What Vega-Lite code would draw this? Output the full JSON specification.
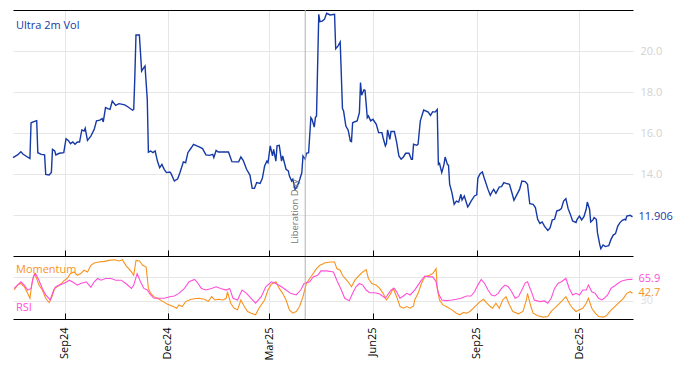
{
"$schema":"https://vega.github.io/schema/vega-lite/v6.json",
"padding":{"left":10,"top":9,"right":0,"bottom":0},
"spacing":-2,
"config":{"view":{"stroke":null},"font":"Open Sans","axis":{"labelFont":"Open Sans","domainColor":"#000000","tickColor":"#000000","gridColor":"#e6e6e6","gridWidth":1,"minExtent":0}},
"datasets":{
"events":[{"d":"2025-04-02","label":"Liberation Day"}],
"vol":[
{"d":"2024-07-17","v":14.80},{"d":"2024-07-21","v":14.93},{"d":"2024-07-24","v":15.09},{"d":"2024-07-26","v":14.96},{"d":"2024-08-01","v":14.75},{"d":"2024-08-02","v":16.50},{"d":"2024-08-05","v":16.57},{"d":"2024-08-07","v":16.60},{"d":"2024-08-08","v":15.04},{"d":"2024-08-11","v":14.96},{"d":"2024-08-14","v":14.93},{"d":"2024-08-15","v":13.98},{"d":"2024-08-18","v":13.95},{"d":"2024-08-20","v":14.07},{"d":"2024-08-21","v":15.20},{"d":"2024-08-23","v":15.12},{"d":"2024-08-24","v":14.93},{"d":"2024-08-27","v":15.01},{"d":"2024-08-31","v":15.04},
{"d":"2024-09-02","v":15.72},{"d":"2024-09-04","v":15.64},{"d":"2024-09-06","v":15.48},{"d":"2024-09-08","v":15.56},{"d":"2024-09-10","v":15.45},{"d":"2024-09-12","v":15.56},{"d":"2024-09-14","v":15.56},{"d":"2024-09-16","v":16.15},{"d":"2024-09-18","v":16.10},{"d":"2024-09-19","v":16.23},{"d":"2024-09-21","v":15.64},{"d":"2024-09-24","v":15.85},{"d":"2024-09-27","v":16.18},{"d":"2024-09-29","v":16.59},
{"d":"2024-10-02","v":16.63},{"d":"2024-10-04","v":16.70},{"d":"2024-10-05","v":16.54},{"d":"2024-10-07","v":17.24},{"d":"2024-10-09","v":17.19},{"d":"2024-10-11","v":17.15},{"d":"2024-10-13","v":17.56},{"d":"2024-10-16","v":17.35},{"d":"2024-10-19","v":17.43},{"d":"2024-10-24","v":17.37},{"d":"2024-10-27","v":17.27},{"d":"2024-10-31","v":17.11},
{"d":"2024-11-01","v":17.15},{"d":"2024-11-02","v":18.78},{"d":"2024-11-03","v":20.78},{"d":"2024-11-06","v":20.78},{"d":"2024-11-08","v":19.02},{"d":"2024-11-10","v":19.19},{"d":"2024-11-11","v":19.27},{"d":"2024-11-13","v":17.64},{"d":"2024-11-14","v":15.07},{"d":"2024-11-16","v":15.12},{"d":"2024-11-18","v":15.04},{"d":"2024-11-20","v":15.12},{"d":"2024-11-22","v":14.63},{"d":"2024-11-24","v":14.31},{"d":"2024-11-26","v":14.47},{"d":"2024-11-28","v":14.23},{"d":"2024-11-30","v":14.07},
{"d":"2024-12-03","v":14.10},{"d":"2024-12-04","v":14.03},{"d":"2024-12-07","v":13.66},{"d":"2024-12-10","v":13.77},{"d":"2024-12-12","v":14.07},{"d":"2024-12-15","v":14.59},{"d":"2024-12-17","v":14.55},{"d":"2024-12-19","v":15.04},{"d":"2024-12-22","v":15.28},{"d":"2024-12-24","v":15.45},{"d":"2024-12-27","v":15.37},{"d":"2024-12-29","v":15.32},
{"d":"2025-01-01","v":15.24},{"d":"2025-01-04","v":14.93},{"d":"2025-01-07","v":14.91},{"d":"2025-01-10","v":14.96},{"d":"2025-01-11","v":14.80},{"d":"2025-01-13","v":15.15},{"d":"2025-01-15","v":15.07},{"d":"2025-01-19","v":15.07},{"d":"2025-01-24","v":15.07},{"d":"2025-01-27","v":14.60},{"d":"2025-01-30","v":14.59},
{"d":"2025-02-02","v":14.59},{"d":"2025-02-04","v":14.83},{"d":"2025-02-06","v":14.67},{"d":"2025-02-09","v":14.23},{"d":"2025-02-12","v":13.95},{"d":"2025-02-14","v":13.30},{"d":"2025-02-16","v":13.30},{"d":"2025-02-18","v":13.58},{"d":"2025-02-21","v":13.54},{"d":"2025-02-23","v":13.79},{"d":"2025-02-25","v":14.39},{"d":"2025-02-27","v":14.63},{"d":"2025-02-28","v":14.55},
{"d":"2025-03-02","v":15.37},{"d":"2025-03-04","v":14.88},{"d":"2025-03-05","v":15.20},{"d":"2025-03-07","v":14.63},{"d":"2025-03-08","v":15.37},{"d":"2025-03-10","v":15.40},{"d":"2025-03-12","v":14.63},{"d":"2025-03-13","v":14.88},{"d":"2025-03-16","v":14.23},{"d":"2025-03-18","v":14.15},{"d":"2025-03-19","v":13.90},{"d":"2025-03-21","v":13.66},{"d":"2025-03-22","v":13.74},{"d":"2025-03-24","v":13.25},{"d":"2025-03-26","v":13.41},{"d":"2025-03-28","v":13.71},{"d":"2025-03-30","v":14.07},{"d":"2025-03-31","v":14.88},
{"d":"2025-04-02","v":14.72},{"d":"2025-04-03","v":15.01},{"d":"2025-04-05","v":15.04},{"d":"2025-04-07","v":16.75},{"d":"2025-04-08","v":16.67},{"d":"2025-04-10","v":16.29},{"d":"2025-04-11","v":16.75},{"d":"2025-04-12","v":16.83},{"d":"2025-04-14","v":21.79},{"d":"2025-04-15","v":21.43},{"d":"2025-04-17","v":21.46},{"d":"2025-04-19","v":21.54},{"d":"2025-04-21","v":21.84},{"d":"2025-04-24","v":21.76},{"d":"2025-04-28","v":21.79},{"d":"2025-04-29","v":20.11},
{"d":"2025-05-01","v":20.24},{"d":"2025-05-03","v":20.44},{"d":"2025-05-05","v":17.19},{"d":"2025-05-06","v":17.07},{"d":"2025-05-08","v":16.34},{"d":"2025-05-10","v":16.15},{"d":"2025-05-12","v":15.61},{"d":"2025-05-13","v":15.58},{"d":"2025-05-14","v":16.50},{"d":"2025-05-16","v":16.55},{"d":"2025-05-18","v":16.59},{"d":"2025-05-20","v":16.99},{"d":"2025-05-21","v":18.46},{"d":"2025-05-22","v":17.84},{"d":"2025-05-24","v":18.10},{"d":"2025-05-25","v":18.08},{"d":"2025-05-27","v":16.75},{"d":"2025-05-28","v":16.83},{"d":"2025-05-30","v":16.59},
{"d":"2025-06-01","v":16.67},{"d":"2025-06-04","v":16.42},{"d":"2025-06-06","v":16.02},{"d":"2025-06-09","v":16.02},{"d":"2025-06-10","v":15.77},{"d":"2025-06-12","v":15.37},{"d":"2025-06-13","v":15.50},{"d":"2025-06-14","v":16.15},{"d":"2025-06-16","v":15.69},{"d":"2025-06-17","v":16.07},{"d":"2025-06-20","v":16.07},{"d":"2025-06-22","v":15.56},{"d":"2025-06-24","v":14.88},{"d":"2025-06-26","v":14.72},{"d":"2025-06-28","v":14.83},{"d":"2025-06-30","v":15.01},
{"d":"2025-07-03","v":15.01},{"d":"2025-07-05","v":14.72},{"d":"2025-07-06","v":14.72},{"d":"2025-07-07","v":15.45},{"d":"2025-07-10","v":15.40},{"d":"2025-07-11","v":15.45},{"d":"2025-07-13","v":16.59},{"d":"2025-07-16","v":17.12},{"d":"2025-07-20","v":17.02},{"d":"2025-07-22","v":16.86},{"d":"2025-07-24","v":17.04},{"d":"2025-07-26","v":17.02},{"d":"2025-07-28","v":17.15},{"d":"2025-07-29","v":14.47},{"d":"2025-07-30","v":14.52},
{"d":"2025-08-01","v":14.07},{"d":"2025-08-03","v":14.47},{"d":"2025-08-04","v":14.83},{"d":"2025-08-06","v":14.47},{"d":"2025-08-07","v":14.42},{"d":"2025-08-08","v":13.50},{"d":"2025-08-10","v":13.09},{"d":"2025-08-12","v":12.52},{"d":"2025-08-14","v":12.68},{"d":"2025-08-16","v":12.63},{"d":"2025-08-18","v":13.01},{"d":"2025-08-19","v":12.73},{"d":"2025-08-21","v":12.93},{"d":"2025-08-24","v":12.39},{"d":"2025-08-25","v":12.47},{"d":"2025-08-27","v":12.68},{"d":"2025-08-30","v":12.93},
{"d":"2025-09-01","v":12.98},{"d":"2025-09-02","v":13.79},{"d":"2025-09-04","v":14.02},{"d":"2025-09-06","v":14.10},{"d":"2025-09-08","v":13.74},{"d":"2025-09-11","v":13.25},{"d":"2025-09-13","v":12.96},{"d":"2025-09-15","v":13.17},{"d":"2025-09-16","v":13.25},{"d":"2025-09-18","v":13.06},{"d":"2025-09-21","v":13.37},{"d":"2025-09-23","v":13.38},{"d":"2025-09-25","v":13.58},{"d":"2025-09-27","v":13.54},{"d":"2025-09-30","v":13.50},
{"d":"2025-10-02","v":13.12},{"d":"2025-10-04","v":12.72},{"d":"2025-10-06","v":12.93},{"d":"2025-10-09","v":13.25},{"d":"2025-10-11","v":13.66},{"d":"2025-10-14","v":13.63},{"d":"2025-10-16","v":13.50},{"d":"2025-10-18","v":12.55},{"d":"2025-10-21","v":12.52},{"d":"2025-10-23","v":12.36},{"d":"2025-10-25","v":11.79},{"d":"2025-10-27","v":11.59},{"d":"2025-10-29","v":11.66},{"d":"2025-10-31","v":11.46},
{"d":"2025-11-03","v":11.25},{"d":"2025-11-05","v":11.37},{"d":"2025-11-07","v":11.76},{"d":"2025-11-09","v":11.79},{"d":"2025-11-11","v":12.20},{"d":"2025-11-13","v":12.23},{"d":"2025-11-15","v":12.31},{"d":"2025-11-17","v":12.68},{"d":"2025-11-19","v":12.80},{"d":"2025-11-21","v":12.31},{"d":"2025-11-23","v":12.03},{"d":"2025-11-25","v":11.71},{"d":"2025-11-28","v":11.63},{"d":"2025-11-29","v":11.79},
{"d":"2025-12-01","v":11.95},{"d":"2025-12-03","v":11.76},{"d":"2025-12-05","v":11.92},{"d":"2025-12-07","v":12.28},{"d":"2025-12-08","v":12.63},{"d":"2025-12-10","v":12.28},{"d":"2025-12-11","v":11.66},{"d":"2025-12-13","v":11.76},{"d":"2025-12-14","v":11.87},{"d":"2025-12-16","v":11.79},{"d":"2025-12-17","v":11.14},{"d":"2025-12-19","v":10.57},{"d":"2025-12-20","v":10.36},{"d":"2025-12-22","v":10.54},{"d":"2025-12-24","v":10.46},{"d":"2025-12-27","v":10.50},{"d":"2025-12-29","v":10.81},{"d":"2025-12-31","v":11.02},
{"d":"2026-01-02","v":11.09},{"d":"2026-01-04","v":11.46},{"d":"2026-01-06","v":11.63},{"d":"2026-01-08","v":11.74},{"d":"2026-01-10","v":11.79},{"d":"2026-01-11","v":11.76},{"d":"2026-01-12","v":11.95},{"d":"2026-01-15","v":11.99},{"d":"2026-01-17","v":11.906}
],
"osc":[
{"d":"2024-07-18","s":"Momentum","v":48.1},{"d":"2024-07-21","s":"Momentum","v":56.3},{"d":"2024-07-24","s":"Momentum","v":59.0},{"d":"2024-07-27","s":"Momentum","v":53.6},{"d":"2024-07-30","s":"Momentum","v":42.6},{"d":"2024-08-01","s":"Momentum","v":34.4},{"d":"2024-08-03","s":"Momentum","v":61.8},{"d":"2024-08-05","s":"Momentum","v":75.5},{"d":"2024-08-07","s":"Momentum","v":67.3},{"d":"2024-08-09","s":"Momentum","v":56.3},{"d":"2024-08-12","s":"Momentum","v":48.1},{"d":"2024-08-15","s":"Momentum","v":34.4},{"d":"2024-08-18","s":"Momentum","v":27.3},{"d":"2024-08-20","s":"Momentum","v":34.4},{"d":"2024-08-23","s":"Momentum","v":50.8},{"d":"2024-08-26","s":"Momentum","v":54.7},{"d":"2024-08-29","s":"Momentum","v":59.0},{"d":"2024-08-31","s":"Momentum","v":63.4},
{"d":"2024-09-03","s":"Momentum","v":67.3},{"d":"2024-09-06","s":"Momentum","v":75.5},{"d":"2024-09-09","s":"Momentum","v":78.2},{"d":"2024-09-12","s":"Momentum","v":72.7},{"d":"2024-09-15","s":"Momentum","v":75.5},{"d":"2024-09-18","s":"Momentum","v":81.0},{"d":"2024-09-21","s":"Momentum","v":78.2},{"d":"2024-09-24","s":"Momentum","v":89.2},{"d":"2024-09-27","s":"Momentum","v":93.0},{"d":"2024-10-01","s":"Momentum","v":94.7},{"d":"2024-10-06","s":"Momentum","v":95.8},{"d":"2024-10-10","s":"Momentum","v":97.4},{"d":"2024-10-15","s":"Momentum","v":98.5},{"d":"2024-10-19","s":"Momentum","v":96.3},{"d":"2024-10-22","s":"Momentum","v":98.5},{"d":"2024-10-25","s":"Momentum","v":89.2},{"d":"2024-10-30","s":"Momentum","v":78.2},
{"d":"2024-11-01","s":"Momentum","v":72.7},{"d":"2024-11-03","s":"Momentum","v":97.4},{"d":"2024-11-06","s":"Momentum","v":96.3},{"d":"2024-11-09","s":"Momentum","v":89.2},{"d":"2024-11-12","s":"Momentum","v":86.4},{"d":"2024-11-14","s":"Momentum","v":50.8},{"d":"2024-11-16","s":"Momentum","v":42.6},{"d":"2024-11-19","s":"Momentum","v":37.1},{"d":"2024-11-22","s":"Momentum","v":34.4},{"d":"2024-11-27","s":"Momentum","v":28.9},{"d":"2024-12-01","s":"Momentum","v":24.5},{"d":"2024-12-06","s":"Momentum","v":20.7},{"d":"2024-12-09","s":"Momentum","v":17.9},{"d":"2024-12-11","s":"Momentum","v":23.4},{"d":"2024-12-14","s":"Momentum","v":20.7},{"d":"2024-12-17","s":"Momentum","v":28.9},{"d":"2024-12-22","s":"Momentum","v":32.7},{"d":"2024-12-28","s":"Momentum","v":34.4},
{"d":"2025-01-03","s":"Momentum","v":32.7},{"d":"2025-01-06","s":"Momentum","v":28.9},{"d":"2025-01-09","s":"Momentum","v":37.1},{"d":"2025-01-12","s":"Momentum","v":31.6},{"d":"2025-01-15","s":"Momentum","v":32.7},{"d":"2025-01-19","s":"Momentum","v":31.6},{"d":"2025-01-22","s":"Momentum","v":34.4},{"d":"2025-01-23","s":"Momentum","v":45.3},{"d":"2025-01-26","s":"Momentum","v":26.2},{"d":"2025-01-29","s":"Momentum","v":17.9},{"d":"2025-02-01","s":"Momentum","v":15.2},{"d":"2025-02-04","s":"Momentum","v":31.6},{"d":"2025-02-07","s":"Momentum","v":20.7},{"d":"2025-02-10","s":"Momentum","v":12.5},{"d":"2025-02-13","s":"Momentum","v":9.7},{"d":"2025-02-17","s":"Momentum","v":7.0},{"d":"2025-02-20","s":"Momentum","v":17.9},{"d":"2025-02-25","s":"Momentum","v":31.6},{"d":"2025-02-28","s":"Momentum","v":48.1},
{"d":"2025-03-03","s":"Momentum","v":57.9},{"d":"2025-03-07","s":"Momentum","v":61.8},{"d":"2025-03-10","s":"Momentum","v":50.8},{"d":"2025-03-13","s":"Momentum","v":42.6},{"d":"2025-03-16","s":"Momentum","v":31.6},{"d":"2025-03-19","s":"Momentum","v":15.2},{"d":"2025-03-22","s":"Momentum","v":9.7},{"d":"2025-03-25","s":"Momentum","v":12.5},{"d":"2025-03-28","s":"Momentum","v":20.7},{"d":"2025-03-31","s":"Momentum","v":37.1},{"d":"2025-04-03","s":"Momentum","v":59.0},{"d":"2025-04-06","s":"Momentum","v":67.3},{"d":"2025-04-09","s":"Momentum","v":75.5},{"d":"2025-04-12","s":"Momentum","v":83.7},{"d":"2025-04-15","s":"Momentum","v":89.2},{"d":"2025-04-18","s":"Momentum","v":91.9},{"d":"2025-04-19","s":"Momentum","v":93.0},{"d":"2025-04-24","s":"Momentum","v":94.7},{"d":"2025-04-28","s":"Momentum","v":94.7},{"d":"2025-04-30","s":"Momentum","v":83.7},
{"d":"2025-05-03","s":"Momentum","v":81.0},{"d":"2025-05-05","s":"Momentum","v":72.7},{"d":"2025-05-10","s":"Momentum","v":61.8},{"d":"2025-05-13","s":"Momentum","v":53.6},{"d":"2025-05-16","s":"Momentum","v":64.5},{"d":"2025-05-20","s":"Momentum","v":72.7},{"d":"2025-05-23","s":"Momentum","v":78.2},{"d":"2025-05-26","s":"Momentum","v":82.1},{"d":"2025-05-28","s":"Momentum","v":67.3},{"d":"2025-05-31","s":"Momentum","v":59.0},{"d":"2025-06-04","s":"Momentum","v":56.3},{"d":"2025-06-07","s":"Momentum","v":50.8},{"d":"2025-06-10","s":"Momentum","v":42.6},{"d":"2025-06-13","s":"Momentum","v":31.6},{"d":"2025-06-16","s":"Momentum","v":39.9},{"d":"2025-06-19","s":"Momentum","v":50.8},{"d":"2025-06-22","s":"Momentum","v":37.1},{"d":"2025-06-25","s":"Momentum","v":20.7},{"d":"2025-06-28","s":"Momentum","v":17.9},
{"d":"2025-07-01","s":"Momentum","v":20.7},{"d":"2025-07-04","s":"Momentum","v":17.9},{"d":"2025-07-07","s":"Momentum","v":21.8},{"d":"2025-07-08","s":"Momentum","v":31.6},{"d":"2025-07-11","s":"Momentum","v":42.6},{"d":"2025-07-14","s":"Momentum","v":59.0},{"d":"2025-07-17","s":"Momentum","v":70.0},{"d":"2025-07-21","s":"Momentum","v":72.7},{"d":"2025-07-24","s":"Momentum","v":75.5},{"d":"2025-07-27","s":"Momentum","v":83.7},{"d":"2025-07-28","s":"Momentum","v":50.8},{"d":"2025-07-30","s":"Momentum","v":31.6},{"d":"2025-08-02","s":"Momentum","v":23.4},{"d":"2025-08-05","s":"Momentum","v":20.7},{"d":"2025-08-10","s":"Momentum","v":15.2},{"d":"2025-08-14","s":"Momentum","v":9.7},{"d":"2025-08-17","s":"Momentum","v":7.0},{"d":"2025-08-20","s":"Momentum","v":10.8},{"d":"2025-08-23","s":"Momentum","v":9.7},{"d":"2025-08-26","s":"Momentum","v":12.5},{"d":"2025-08-29","s":"Momentum","v":17.9},
{"d":"2025-09-01","s":"Momentum","v":23.4},{"d":"2025-09-04","s":"Momentum","v":28.9},{"d":"2025-09-07","s":"Momentum","v":32.7},{"d":"2025-09-10","s":"Momentum","v":26.2},{"d":"2025-09-13","s":"Momentum","v":20.7},{"d":"2025-09-15","s":"Momentum","v":17.9},{"d":"2025-09-18","s":"Momentum","v":26.2},{"d":"2025-09-21","s":"Momentum","v":17.9},{"d":"2025-09-24","s":"Momentum","v":31.6},{"d":"2025-09-27","s":"Momentum","v":37.1},{"d":"2025-09-30","s":"Momentum","v":23.4},{"d":"2025-10-03","s":"Momentum","v":12.5},{"d":"2025-10-08","s":"Momentum","v":8.6},{"d":"2025-10-12","s":"Momentum","v":12.5},{"d":"2025-10-15","s":"Momentum","v":31.6},{"d":"2025-10-16","s":"Momentum","v":42.6},{"d":"2025-10-19","s":"Momentum","v":20.7},{"d":"2025-10-21","s":"Momentum","v":9.7},{"d":"2025-10-25","s":"Momentum","v":5.3},{"d":"2025-10-30","s":"Momentum","v":3.1},
{"d":"2025-11-03","s":"Momentum","v":4.2},{"d":"2025-11-06","s":"Momentum","v":12.5},{"d":"2025-11-09","s":"Momentum","v":17.9},{"d":"2025-11-12","s":"Momentum","v":23.4},{"d":"2025-11-15","s":"Momentum","v":28.9},{"d":"2025-11-19","s":"Momentum","v":37.1},{"d":"2025-11-22","s":"Momentum","v":26.2},{"d":"2025-11-25","s":"Momentum","v":17.9},{"d":"2025-11-28","s":"Momentum","v":12.5},{"d":"2025-12-01","s":"Momentum","v":15.2},{"d":"2025-12-04","s":"Momentum","v":17.9},{"d":"2025-12-07","s":"Momentum","v":26.2},{"d":"2025-12-09","s":"Momentum","v":34.4},{"d":"2025-12-12","s":"Momentum","v":17.9},{"d":"2025-12-15","s":"Momentum","v":9.7},{"d":"2025-12-18","s":"Momentum","v":4.2},{"d":"2025-12-22","s":"Momentum","v":3.1},{"d":"2025-12-25","s":"Momentum","v":5.3},{"d":"2025-12-28","s":"Momentum","v":12.5},{"d":"2025-12-31","s":"Momentum","v":17.9},
{"d":"2026-01-03","s":"Momentum","v":23.4},{"d":"2026-01-06","s":"Momentum","v":28.9},{"d":"2026-01-09","s":"Momentum","v":34.4},{"d":"2026-01-12","s":"Momentum","v":42.6},{"d":"2026-01-15","s":"Momentum","v":45.3},{"d":"2026-01-17","s":"Momentum","v":42.7},
{"d":"2024-07-18","s":"RSI","v":50.8},{"d":"2024-07-21","s":"RSI","v":56.3},{"d":"2024-07-24","s":"RSI","v":61.8},{"d":"2024-07-27","s":"RSI","v":56.3},{"d":"2024-07-30","s":"RSI","v":48.1},{"d":"2024-08-02","s":"RSI","v":50.8},{"d":"2024-08-04","s":"RSI","v":70.0},{"d":"2024-08-06","s":"RSI","v":75.5},{"d":"2024-08-09","s":"RSI","v":64.5},{"d":"2024-08-12","s":"RSI","v":50.8},{"d":"2024-08-15","s":"RSI","v":39.9},{"d":"2024-08-19","s":"RSI","v":31.6},{"d":"2024-08-22","s":"RSI","v":48.1},{"d":"2024-08-24","s":"RSI","v":53.6},{"d":"2024-08-27","s":"RSI","v":56.3},{"d":"2024-08-31","s":"RSI","v":59.0},
{"d":"2024-09-05","s":"RSI","v":64.5},{"d":"2024-09-09","s":"RSI","v":60.1},{"d":"2024-09-12","s":"RSI","v":56.3},{"d":"2024-09-15","s":"RSI","v":59.0},{"d":"2024-09-20","s":"RSI","v":61.8},{"d":"2024-09-24","s":"RSI","v":52.5},{"d":"2024-09-27","s":"RSI","v":61.8},{"d":"2024-09-30","s":"RSI","v":67.3},{"d":"2024-10-03","s":"RSI","v":64.5},{"d":"2024-10-07","s":"RSI","v":67.3},{"d":"2024-10-12","s":"RSI","v":67.3},{"d":"2024-10-16","s":"RSI","v":64.5},{"d":"2024-10-21","s":"RSI","v":64.5},{"d":"2024-10-25","s":"RSI","v":59.0},{"d":"2024-10-30","s":"RSI","v":50.8},
{"d":"2024-11-01","s":"RSI","v":56.3},{"d":"2024-11-04","s":"RSI","v":75.5},{"d":"2024-11-07","s":"RSI","v":61.8},{"d":"2024-11-10","s":"RSI","v":50.8},{"d":"2024-11-13","s":"RSI","v":48.1},{"d":"2024-11-16","s":"RSI","v":39.9},{"d":"2024-11-19","s":"RSI","v":34.4},{"d":"2024-11-24","s":"RSI","v":34.4},{"d":"2024-11-28","s":"RSI","v":34.4},{"d":"2024-12-03","s":"RSI","v":37.1},{"d":"2024-12-07","s":"RSI","v":38.2},{"d":"2024-12-11","s":"RSI","v":42.6},{"d":"2024-12-16","s":"RSI","v":50.8},{"d":"2024-12-20","s":"RSI","v":61.8},{"d":"2024-12-25","s":"RSI","v":65.6},{"d":"2024-12-28","s":"RSI","v":59.0},{"d":"2024-12-31","s":"RSI","v":50.8},
{"d":"2025-01-04","s":"RSI","v":48.1},{"d":"2025-01-09","s":"RSI","v":50.8},{"d":"2025-01-13","s":"RSI","v":53.6},{"d":"2025-01-17","s":"RSI","v":50.8},{"d":"2025-01-22","s":"RSI","v":48.1},{"d":"2025-01-25","s":"RSI","v":50.8},{"d":"2025-01-28","s":"RSI","v":34.4},{"d":"2025-02-01","s":"RSI","v":31.6},{"d":"2025-02-05","s":"RSI","v":48.1},{"d":"2025-02-09","s":"RSI","v":42.6},{"d":"2025-02-13","s":"RSI","v":34.4},{"d":"2025-02-17","s":"RSI","v":26.2},{"d":"2025-02-22","s":"RSI","v":37.1},{"d":"2025-02-26","s":"RSI","v":53.6},
{"d":"2025-03-03","s":"RSI","v":61.8},{"d":"2025-03-07","s":"RSI","v":59.0},{"d":"2025-03-12","s":"RSI","v":53.6},{"d":"2025-03-16","s":"RSI","v":48.1},{"d":"2025-03-20","s":"RSI","v":42.6},{"d":"2025-03-25","s":"RSI","v":39.9},{"d":"2025-03-29","s":"RSI","v":48.1},{"d":"2025-04-01","s":"RSI","v":59.0},{"d":"2025-04-06","s":"RSI","v":61.8},{"d":"2025-04-09","s":"RSI","v":70.0},{"d":"2025-04-13","s":"RSI","v":72.7},{"d":"2025-04-16","s":"RSI","v":79.9},{"d":"2025-04-21","s":"RSI","v":79.9},{"d":"2025-04-27","s":"RSI","v":78.2},{"d":"2025-04-30","s":"RSI","v":64.5},
{"d":"2025-05-04","s":"RSI","v":48.1},{"d":"2025-05-07","s":"RSI","v":34.4},{"d":"2025-05-11","s":"RSI","v":30.5},{"d":"2025-05-14","s":"RSI","v":42.6},{"d":"2025-05-17","s":"RSI","v":53.6},{"d":"2025-05-20","s":"RSI","v":59.0},{"d":"2025-05-23","s":"RSI","v":56.3},{"d":"2025-05-26","s":"RSI","v":48.1},{"d":"2025-05-29","s":"RSI","v":43.7},{"d":"2025-06-03","s":"RSI","v":43.7},{"d":"2025-06-07","s":"RSI","v":41.5},{"d":"2025-06-12","s":"RSI","v":34.4},{"d":"2025-06-14","s":"RSI","v":39.9},{"d":"2025-06-17","s":"RSI","v":48.1},{"d":"2025-06-20","s":"RSI","v":50.8},{"d":"2025-06-22","s":"RSI","v":45.3},{"d":"2025-06-25","s":"RSI","v":34.4},{"d":"2025-06-28","s":"RSI","v":38.2},
{"d":"2025-07-01","s":"RSI","v":42.6},{"d":"2025-07-04","s":"RSI","v":39.9},{"d":"2025-07-08","s":"RSI","v":48.1},{"d":"2025-07-11","s":"RSI","v":56.3},{"d":"2025-07-14","s":"RSI","v":64.5},{"d":"2025-07-17","s":"RSI","v":71.1},{"d":"2025-07-21","s":"RSI","v":70.0},{"d":"2025-07-24","s":"RSI","v":70.0},{"d":"2025-07-27","s":"RSI","v":61.8},{"d":"2025-07-29","s":"RSI","v":42.6},{"d":"2025-08-01","s":"RSI","v":31.6},{"d":"2025-08-05","s":"RSI","v":30.5},{"d":"2025-08-10","s":"RSI","v":31.6},{"d":"2025-08-14","s":"RSI","v":32.7},{"d":"2025-08-18","s":"RSI","v":34.4},{"d":"2025-08-23","s":"RSI","v":38.2},{"d":"2025-08-27","s":"RSI","v":38.2},{"d":"2025-08-30","s":"RSI","v":45.3},
{"d":"2025-09-02","s":"RSI","v":56.3},{"d":"2025-09-05","s":"RSI","v":65.6},{"d":"2025-09-08","s":"RSI","v":59.0},{"d":"2025-09-11","s":"RSI","v":48.1},{"d":"2025-09-14","s":"RSI","v":39.9},{"d":"2025-09-17","s":"RSI","v":38.2},{"d":"2025-09-20","s":"RSI","v":42.6},{"d":"2025-09-23","s":"RSI","v":50.8},{"d":"2025-09-26","s":"RSI","v":56.3},{"d":"2025-09-29","s":"RSI","v":53.6},{"d":"2025-10-02","s":"RSI","v":45.3},{"d":"2025-10-05","s":"RSI","v":34.4},{"d":"2025-10-08","s":"RSI","v":37.1},{"d":"2025-10-11","s":"RSI","v":48.1},{"d":"2025-10-14","s":"RSI","v":60.1},{"d":"2025-10-16","s":"RSI","v":61.8},{"d":"2025-10-20","s":"RSI","v":42.6},{"d":"2025-10-22","s":"RSI","v":31.6},{"d":"2025-10-27","s":"RSI","v":28.9},{"d":"2025-10-31","s":"RSI","v":30.0},
{"d":"2025-11-03","s":"RSI","v":26.2},{"d":"2025-11-06","s":"RSI","v":34.4},{"d":"2025-11-09","s":"RSI","v":50.8},{"d":"2025-11-12","s":"RSI","v":59.0},{"d":"2025-11-15","s":"RSI","v":61.8},{"d":"2025-11-19","s":"RSI","v":67.3},{"d":"2025-11-22","s":"RSI","v":50.8},{"d":"2025-11-25","s":"RSI","v":39.9},{"d":"2025-11-28","s":"RSI","v":42.6},{"d":"2025-12-01","s":"RSI","v":39.9},{"d":"2025-12-04","s":"RSI","v":48.1},{"d":"2025-12-07","s":"RSI","v":48.1},{"d":"2025-12-09","s":"RSI","v":56.3},{"d":"2025-12-12","s":"RSI","v":45.3},{"d":"2025-12-15","s":"RSI","v":42.6},{"d":"2025-12-18","s":"RSI","v":34.4},{"d":"2025-12-21","s":"RSI","v":31.6},{"d":"2025-12-23","s":"RSI","v":34.4},{"d":"2025-12-26","s":"RSI","v":39.9},{"d":"2025-12-29","s":"RSI","v":50.8},
{"d":"2026-01-01","s":"RSI","v":54.7},{"d":"2026-01-04","s":"RSI","v":59.0},{"d":"2026-01-07","s":"RSI","v":62.9},{"d":"2026-01-10","s":"RSI","v":64.5},{"d":"2026-01-13","s":"RSI","v":65.6},{"d":"2026-01-17","s":"RSI","v":65.9}
]
},
"vconcat":[
{
"width":620,"height":246,
"layer":[
{"data":{"name":"vol"},"mark":{"type":"line","color":"#1539a6","strokeWidth":1.4},
 "encoding":{
  "x":{"field":"d","type":"temporal","scale":{"domain":[{"year":2024,"month":"jul","date":17},{"year":2026,"month":"jan","date":17,"hours":12}]},
       "axis":{"orient":"bottom","title":null,"labels":false,"labelPadding":0,"tickSize":-6,"grid":true,"values":[{"year":2024,"month":"sep","date":1},{"year":2024,"month":"dec","date":1},{"year":2025,"month":"mar","date":1},{"year":2025,"month":"jun","date":1},{"year":2025,"month":"sep","date":1},{"year":2025,"month":"dec","date":1}]}},
  "y":{"field":"v","type":"quantitative","scale":{"domain":[10,22],"nice":false,"zero":false},
       "axis":{"orient":"right","title":null,"values":[12,14,16,18,20],"labelExpr":"datum.value == 12 ? '' : format(datum.value, '.1f')","domain":false,"ticks":false,"labelColor":"#d2d2d2","labelFontSize":11,"labelPadding":7}}
 }},
{"data":{"name":"events"},"mark":{"type":"rule","color":"#b0b0b0","strokeWidth":1},
 "encoding":{"x":{"field":"d","type":"temporal","axis":{"orient":"top","title":null,"labels":false,"labelPadding":0,"ticks":false,"grid":false}}}},
{"data":{"name":"events"},"mark":{"type":"text","angle":270,"align":"left","baseline":"bottom","dy":-5,"fontSize":9.5,"color":"#777777"},
 "encoding":{"x":{"field":"d","type":"temporal","axis":null},"y":{"datum":10.6,"type":"quantitative","axis":null},"text":{"field":"label"}}},
{"data":{"values":[{}]},"mark":{"type":"text","align":"left","baseline":"middle","dx":3,"fontSize":11,"color":"#1539a6"},
 "encoding":{"x":{"datum":{"year":2024,"month":"jul","date":17},"type":"temporal","axis":null},"y":{"datum":21.24,"type":"quantitative","axis":null},"text":{"value":"Ultra 2m Vol"}}},
{"data":{"name":"vol"},"transform":[{"window":[{"op":"row_number","as":"rn"}],"sort":[{"field":"d","order":"descending"}]},{"filter":"datum.rn == 1"}],
 "mark":{"type":"text","align":"left","baseline":"middle","dx":6,"fontSize":11,"color":"#1539a6"},
 "encoding":{"x":{"field":"d","type":"temporal","axis":null},"y":{"field":"v","type":"quantitative","axis":null},"text":{"field":"v","type":"quantitative","format":".3f"}}}
],
"resolve":{"axis":{"x":"independent","y":"independent"}}
},
{
"width":620,"height":62,
"layer":[
{"data":{"name":"osc"},"mark":{"type":"line","strokeWidth":1.1},
 "encoding":{
  "x":{"field":"d","type":"temporal","scale":{"domain":[{"year":2024,"month":"jul","date":17},{"year":2026,"month":"jan","date":17,"hours":12}]},
       "axis":{"orient":"bottom","title":null,"format":"%b%y","labelAngle":270,"labelFontSize":11,"labelColor":"#000000","labelPadding":14,"tickSize":-6,"grid":true,"values":[{"year":2024,"month":"sep","date":1},{"year":2024,"month":"dec","date":1},{"year":2025,"month":"mar","date":1},{"year":2025,"month":"jun","date":1},{"year":2025,"month":"sep","date":1},{"year":2025,"month":"dec","date":1}]}},
  "y":{"field":"v","type":"quantitative","scale":{"domain":[0,103],"nice":false,"zero":false},
       "axis":{"orient":"right","title":null,"values":[30,70],"labelExpr":"datum.value == 30 ? '30' : ''","domain":false,"ticks":false,"labelColor":"#e0e0e0","labelFontSize":11,"labelPadding":7}},
  "color":{"field":"s","type":"nominal","scale":{"domain":["Momentum","RSI"],"range":["#f7931e","#ff4fd8"]},"legend":null}
 }},
{"data":{"name":"events"},"mark":{"type":"rule","color":"#b0b0b0","strokeWidth":1},
 "encoding":{"x":{"field":"d","type":"temporal","axis":null}}},
{"data":{"name":"osc"},"transform":[{"window":[{"op":"row_number","as":"rn"}],"groupby":["s"],"sort":[{"field":"d","order":"descending"}]},{"filter":"datum.rn == 1"}],
 "mark":{"type":"text","align":"left","baseline":"middle","dx":6,"fontSize":11},
 "encoding":{"x":{"field":"d","type":"temporal","axis":null},"y":{"field":"v","type":"quantitative","axis":null},"text":{"field":"v","type":"quantitative","format":".1f"},
  "color":{"field":"s","type":"nominal","scale":{"domain":["Momentum","RSI"],"range":["#f7931e","#ff4fd8"]},"legend":null}}},
{"data":{"values":[{}]},"mark":{"type":"text","align":"left","baseline":"middle","dx":3,"fontSize":11,"color":"#f7931e"},
 "encoding":{"x":{"datum":{"year":2024,"month":"jul","date":17},"type":"temporal","axis":null},"y":{"datum":81,"type":"quantitative","axis":null},"text":{"value":"Momentum"}}},
{"data":{"values":[{}]},"mark":{"type":"text","align":"left","baseline":"middle","dx":3,"fontSize":11,"color":"#ff4fd8"},
 "encoding":{"x":{"datum":{"year":2024,"month":"jul","date":17},"type":"temporal","axis":null},"y":{"datum":19,"type":"quantitative","axis":null},"text":{"value":"RSI"}}}
],
"resolve":{"axis":{"x":"independent","y":"independent"}}
}
]
}
